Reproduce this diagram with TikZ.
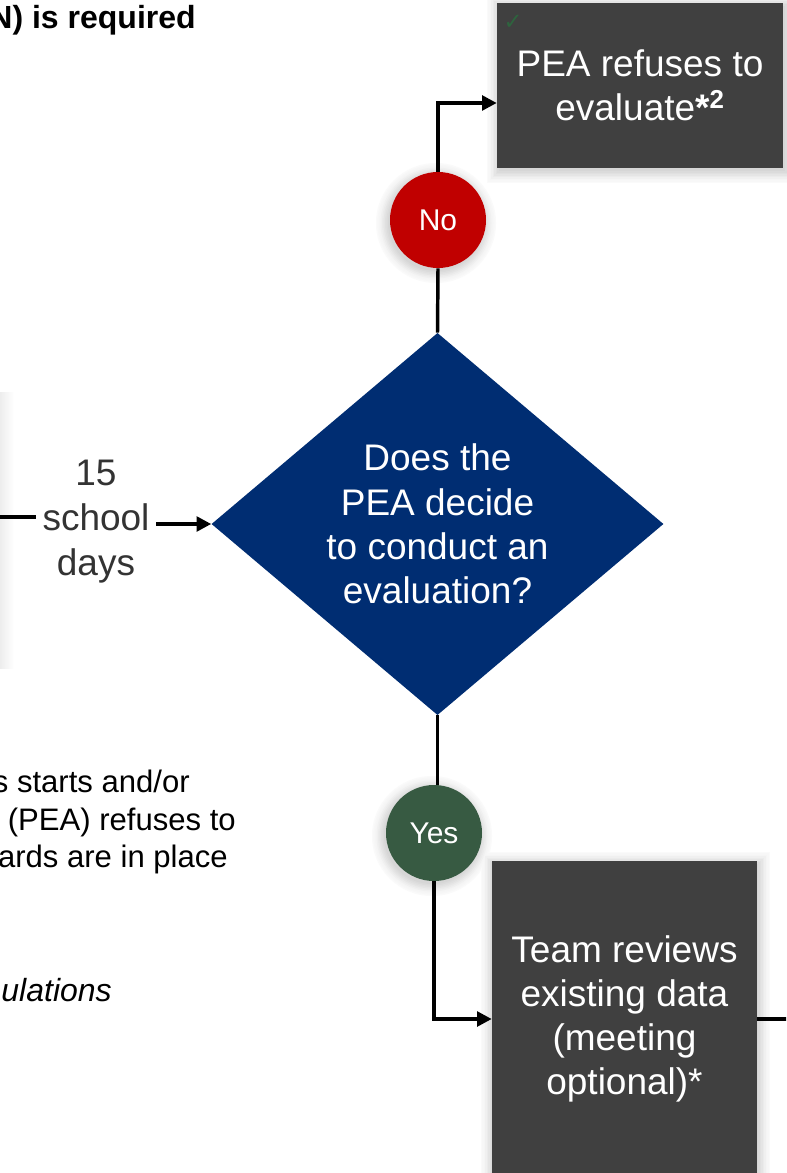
\documentclass[tikz,border=0pt]{standalone}
\usepackage{fontspec}
\setmainfont{Liberation Sans}
\newfontfamily\dejavu{DejaVu Sans}
\usetikzlibrary{shapes.geometric,arrows.meta,calc}
\pgfdeclarelayer{paper}
\pgfdeclarelayer{shadowlayer}
\pgfsetlayers{paper,shadowlayer,main}
\definecolor{boxgray}{RGB}{64,64,64}
\definecolor{navy}{RGB}{0,45,114}
\definecolor{nored}{RGB}{192,0,0}
\definecolor{yesgreen}{RGB}{55,90,66}
\definecolor{labelgray}{RGB}{51,51,51}
\definecolor{checkgreen}{RGB}{46,100,62}
\tikzset{
  procbox/.style={rectangle, fill=boxgray, text=white, align=center, inner sep=0pt,
    font=\fontsize{27.75}{33.2}\selectfont},
  decision/.style={diamond, fill=navy, text=white, align=center, inner sep=0pt,
    minimum width=339pt, minimum height=285pt, font=\fontsize{27.75}{33.2}\selectfont},
  answer/.style={circle, minimum size=72pt, inner sep=0pt, text=white,
    font=\fontsize{22.5}{27}\selectfont},
  flowline/.style={line width=2.6pt},
  flowarrow/.style={line width=2.6pt, -{Triangle[length=11pt,width=11pt]}},
  daylabel/.style={align=center, text=labelgray, inner xsep=5pt, inner ysep=0pt,
    font=\fontsize{27.75}{33.75}\selectfont},
  notetext/.style={inner sep=0pt, text=black, font=\fontsize{23.3}{26}\selectfont}
}
\begin{document}
\begin{tikzpicture}[x=0.75pt,y=-0.75pt]
\useasboundingbox (0,0) rectangle (786,1173);
\clip (0,0) rectangle (786,1173);
\begin{pgfonlayer}{paper}
\fill[white] (0,0) rectangle (786,1173);
% faint shadow of a box beyond the left edge
\shade[left color=black!7, right color=white] (0,392) rectangle (14,668);
\end{pgfonlayer}

% nodes
\node[procbox, minimum width=214.5pt, minimum height=123.75pt] (refuse) at (640,85.5)
  {PEA refuses to\\evaluate\textbf{*\textsuperscript{2}}};
\node[inner sep=0pt, text=checkgreen, font=\dejavu\fontsize{17}{17}\selectfont] (check) at (513,22) {✓};
\node[answer, fill=nored] (no) at (438,220) {No};
\node[decision] (dec) at (437.5,524) {Does the\\PEA decide\\to conduct an\\evaluation?};
\node[answer, fill=yesgreen] (yes) at (434,833) {Yes};
\node[procbox, minimum width=198.75pt, minimum height=237pt] (review) at (624.5,1019)
  {Team reviews\\existing data\\(meeting\\optional)*};
\node[daylabel] (days) at (96,522) {15\\school\\days};

% texts cut by the frame
\node[anchor=base east, inner sep=0pt, font=\bfseries\fontsize{24}{28}\selectfont] (req) at (196,29) {N) is required};
\node[notetext, anchor=base east] (n1) at (190,792) {s starts and/or};
\node[notetext, anchor=base east] (n2) at (236,830) {(PEA) refuses to};
\node[notetext, anchor=base east] (n3) at (228,867) {ards are in place};
\node[notetext, anchor=base east, font=\itshape\fontsize{24}{26}\selectfont] (n4) at (112,1001) {ulations};

% soft shadows behind the nodes
\begin{pgfonlayer}{shadowlayer}
\foreach \d/\c in {12/2,10.5/3,9/4,7.5/6,6/8,4.5/10,3/12,1.5/14,0/16}{
  \fill[black!\c] ($(refuse.south west)+(2-\d,3+\d)$) rectangle ($(refuse.north east)+(2+\d,3-\d)$);
  \fill[black!\c] ($(review.south west)+(1-\d,3+\d)$) rectangle ($(review.north east)+(1+\d,3-\d)$);
  \fill[black!\c] ($(no)+(-2,3)$) circle[radius={(48+\d)*0.75pt}];
  \fill[black!\c] ($(yes)+(-2,3)$) circle[radius={(48+\d)*0.75pt}];
}
\end{pgfonlayer}

\coordinate (inL) at (-5,517);
\coordinate (outR) at (800,1019);
\coordinate (nobend) at (438,103);

% connectors
\draw[flowline] (dec.north) -- (no.south);
\draw[flowarrow] (no.north) -- (nobend) -- (nobend -| refuse.west);
\draw[flowline] (dec.south) -- (dec.south |- yes.north);
\draw[flowarrow] (yes.south) |- (review.west);
\draw[flowline] (review.east) -- (outR |- review.east);
\draw[flowline] (inL) -- (inL -| days.west);
\draw[flowarrow] (days.east |- dec.west) -- (dec.west);
\end{tikzpicture}
\end{document}
